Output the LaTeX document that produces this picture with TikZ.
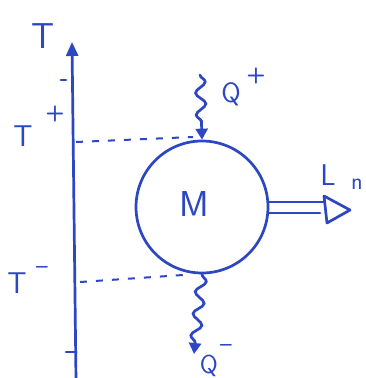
\documentclass[tikz,border=0pt]{standalone}
\usetikzlibrary{arrows.meta,decorations.pathmorphing}
\definecolor{ink}{RGB}{45,70,195}
\begin{document}
\begin{tikzpicture}[x=1pt,y=-1pt,
  ink line/.style={draw=ink,line width=2.7pt,line cap=round},
  lbl/.style={text=ink,font=\sffamily\fontsize{30}{32}\selectfont,inner sep=0pt},
  sup/.style={text=ink,font=\sffamily\bfseries\fontsize{22}{24}\selectfont,inner sep=0pt},
  dash line/.style={draw=ink,line width=2pt,dash pattern=on 7pt off 9pt},
  wavy/.style={ink line,decorate,decoration={snake,amplitude=5pt,segment length=22pt,post length=9pt}},
  filltip/.style={-{Triangle[length=11pt,width=12pt]}}]
\fill[white] (0,0) rectangle (366,378);
\useasboundingbox (0,0) rectangle (366,378);
% axis
\coordinate (ab) at (76,380);
\coordinate (at) at (72,42);
\draw[ink line,-{Triangle[length=14pt,width=12pt]}] (ab) -- (at);
\node[lbl,font=\sffamily\fontsize{36}{38}\selectfont] (T) at (43,36) {T};
% ticks
\coordinate (t1a) at (61,80); \coordinate (t1b) at (66,80);
\draw[ink line] (t1a) -- (t1b);
\coordinate (t2a) at (66,352); \coordinate (t2b) at (76,352);
\draw[ink line] (t2a) -- (t2b);
% labels
\node[lbl] (Tp) at (23,136) {T};
\node[sup] (Tpp) at (55,114) {+};
\node[lbl] (Tm) at (17,283) {T};
\node[sup] (Tmm) at (42,270) {--};
% circle
\node[circle,draw=ink,line width=2.7pt,minimum size=132pt,inner sep=0pt] (M) at (202,207) {};
\node[lbl,font=\sffamily\fontsize{36}{38}\selectfont] (Mlab) at (194,204) {M};
% dashed lines
\coordinate (d1a) at (76,142); \coordinate (d1b) at (193,137);
\draw[dash line] (d1a) -- (d1b);
\coordinate (d2a) at (80,282); \coordinate (d2b) at (183,275);
\draw[dash line] (d2a) -- (d2b);
% Q+ wavy
\coordinate (qps) at (200,75);
\draw[wavy,filltip] (qps) -- (M.north);
\node[lbl,font=\sffamily\fontsize{28}{30}\selectfont] (Qp) at (231,94) {Q};
\node[sup] (Qpp) at (256,76) {+};
% Q- wavy
\coordinate (qme) at (194,354);
\draw[wavy,filltip] (M.south) -- (qme);
\node[lbl,font=\sffamily\fontsize{26}{28}\selectfont] (Qm) at (209,366) {Q};
\node[sup] (Qmm) at (226,348) {--};
% L_n double arrow
\coordinate (l1a) at (268,202); \coordinate (l1b) at (324,202);
\coordinate (l2a) at (268,213); \coordinate (l2b) at (320,213);
\draw[ink line] (l1a) -- (l1b);
\draw[ink line] (l2a) -- (l2b);
\coordinate (ta) at (324,196); \coordinate (tb) at (327,223); \coordinate (tc) at (350,210);
\draw[ink line,line join=round] (ta) -- (tc) -- (tb) -- cycle;
\node[lbl] (L) at (328,175) {L};
\node[lbl,font=\sffamily\fontsize{24}{26}\selectfont] (Ln) at (357,184) {n};
\end{tikzpicture}
\end{document}
